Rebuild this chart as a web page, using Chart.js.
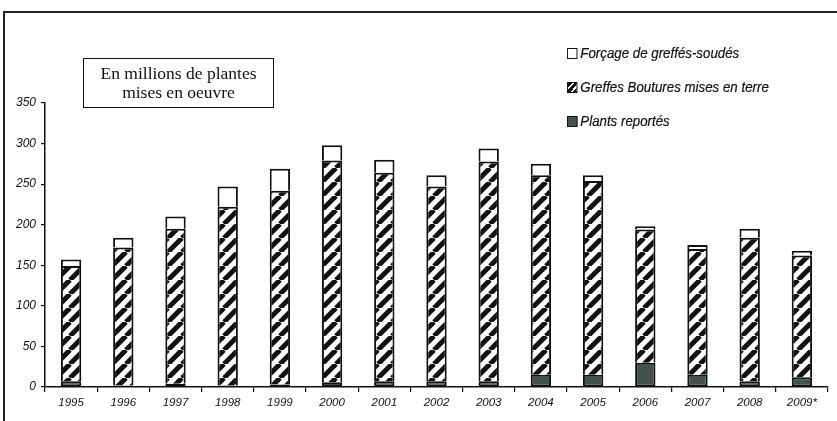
<!DOCTYPE html>
<html lang="fr">
<head>
<meta charset="utf-8">
<title>Plantes mises en oeuvre</title>
<script src="https://cdn.jsdelivr.net/npm/chart.js@4.4.1/dist/chart.umd.min.js"></script>
<style>
  html, body { margin: 0; padding: 0; background: #fff; }
  #wrap { position: relative; width: 837px; height: 421px; overflow: hidden; }
  #frame { position: absolute; left: 3px; top: 11px; width: 840px; height: 420px;
           border-top: 2px solid #222; border-left: 2px solid #222; }
  #chart { position: absolute; left: 0; top: 0; }
  #unit { position: absolute; left: 83px; top: 58px; width: 191px; height: 50px;
          border: 1.5px solid #111; font: 17.5px "Liberation Serif", "Times New Roman", serif;
          color: #111; text-align: center; line-height: 19px; padding-top: 5px; box-sizing: border-box; }
  .leg { position: absolute; left: 567px; font: italic 14px "Liberation Sans", Arial, sans-serif;
         color: #111; white-space: nowrap; transform: scaleX(0.95); transform-origin: left center;
         -webkit-text-stroke: 0.2px #111; }
  .leg i { display: inline-block; width: 9px; height: 9px; border: 1.5px solid #111; margin-right: 3px;
           vertical-align: -1px; }
</style>
</head>
<body>
<div id="wrap">
  <div id="frame"></div>
  <canvas id="chart" width="837" height="421"></canvas>
  <div id="unit">En millions de plantes<br>mises en oeuvre</div>
  <div class="leg" style="top:45px"><i style="background:#fff"></i>Forçage de greffés-soudés</div>
  <div class="leg" style="top:79px"><i style="background:repeating-linear-gradient(135deg,#111 0 3px,#fff 3px 5px)"></i>Greffes Boutures mises en terre</div>
  <div class="leg" style="top:113px"><i style="background:#44524f"></i>Plants reportés</div>
</div>
<script>
// millions of plants per year
const years = ["1995", "1996", "1997", "1998", "1999", "2000", "2001", "2002",
               "2003", "2004", "2005", "2006", "2007", "2008", "2009*"];
const plantsReportes = [7, 2, 4, 2, 3, 6, 7, 7, 7, 15, 15, 30, 15, 7, 12];
const greffesBoutures = [142, 170, 191, 220, 239, 273, 257, 240, 271, 246, 239, 164, 155, 177, 150];
const forcageGreffes = [8, 12, 15, 25, 27, 19, 16, 14, 16, 14, 7, 4, 5, 11, 6];
const yTicks = [0, 50, 100, 150, 200, 250, 300, 350];

const INK = "#111";
const tickFont = { family: "'Liberation Sans', Arial, sans-serif", size: 11.5, style: "italic" };

// diagonal "/" stripes used for the hatched segments
function hatch() {
    const s = 14;
    const c = document.createElement("canvas");
    c.width = c.height = s;
    const g = c.getContext("2d");
    g.fillStyle = "#fff";
    g.fillRect(0, 0, s, s);
    g.strokeStyle = INK;
    g.lineWidth = 5;
    for (const k of [-s, 0, s]) {
        g.beginPath();
        g.moveTo(k, s);
        g.lineTo(k + s, 0);
        g.stroke();
    }
    return document.getElementById("chart").getContext("2d").createPattern(c, "repeat");
}

// upper segments skip their bottom edge so the dividers stay a single line
const full = { top: 2, left: 2, right: 2, bottom: 2 };
const open = { top: 2, left: 2, right: 2, bottom: 0 };
const common = { borderColor: INK, borderSkipped: false, barPercentage: 0.39, categoryPercentage: 1 };

new Chart(document.getElementById("chart"), {
    type: "bar",
    data: {
        labels: years,
        datasets: [
            { label: "Plants reportés", data: plantsReportes, backgroundColor: "#44524f", borderWidth: full, ...common },
            { label: "Greffes Boutures mises en terre", data: greffesBoutures, backgroundColor: hatch(), borderWidth: open, ...common },
            { label: "Forçage de greffés-soudés", data: forcageGreffes, backgroundColor: "#fff", borderWidth: open, ...common }
        ]
    },
    options: {
        responsive: false,
        animation: false,
        layout: { padding: { left: 0, right: 9, top: 103, bottom: 0 } },
        plugins: { legend: { display: false }, tooltip: { enabled: false } },
        scales: {
            x: {
                stacked: true,
                border: { color: INK, width: 1.5 },
                grid: { drawOnChartArea: false, tickLength: 5, color: INK, lineWidth: 1.2 },
                ticks: { color: INK, font: tickFont, padding: 4, maxRotation: 0 },
                afterFit: (s) => { s.height = 34; }
            },
            y: {
                stacked: true,
                min: 0, max: 350,
                afterBuildTicks: (s) => { s.ticks = yTicks.map((v) => ({ value: v })); },
                border: { color: INK, width: 1.5 },
                grid: { drawOnChartArea: false, tickLength: 4, color: INK, lineWidth: 1.2 },
                ticks: { color: INK, font: { ...tickFont, size: 12 }, padding: 5 },
                afterFit: (s) => { s.width = 45; }
            }
        }
    }
});
</script>
</body>
</html>
